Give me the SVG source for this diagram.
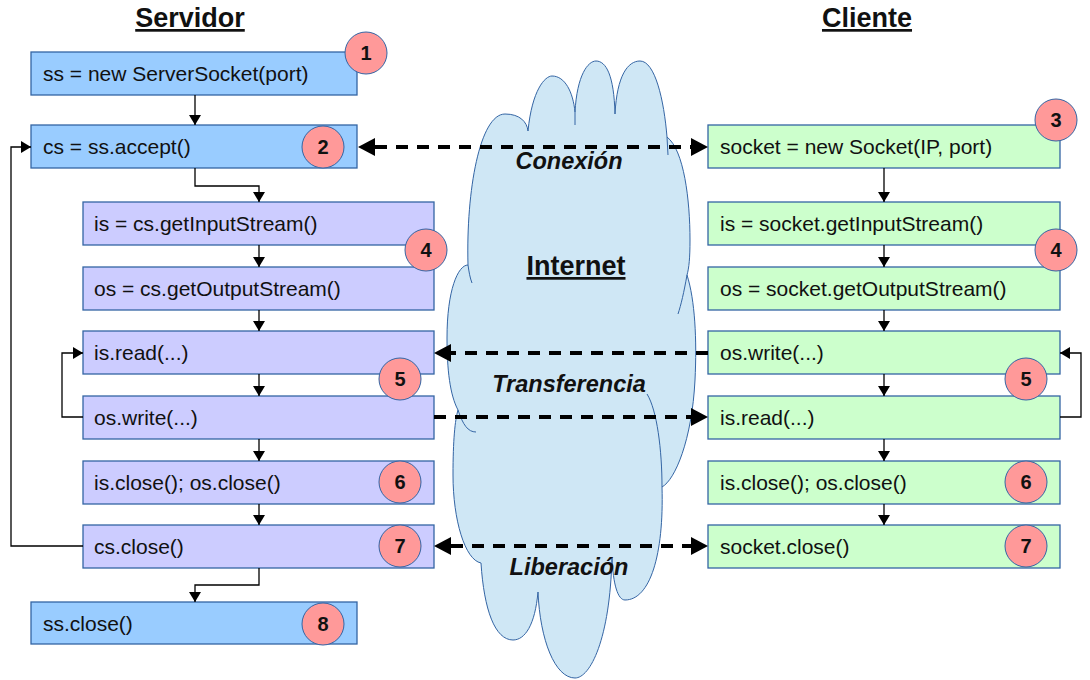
<svg xmlns="http://www.w3.org/2000/svg" width="1090" height="680" viewBox="0 0 1090 680">
<style>
.bx{stroke:#3465a4;stroke-width:1.3}
.srv{fill:#99ccff}.pur{fill:#ccccff}.cli{fill:#ccffcc}
.t{font-family:"Liberation Sans",Arial,sans-serif;font-size:21px;fill:#111}
.nc{fill:#ff9999;stroke:#3465a4;stroke-width:1}
.n{font-family:"Liberation Sans",Arial,sans-serif;font-size:20px;font-weight:bold;text-anchor:middle;fill:#111}
.ttl{font-family:"Liberation Sans",Arial,sans-serif;font-size:27px;font-weight:bold;text-anchor:middle;text-decoration:underline;fill:#111}
.lbl{font-family:"Liberation Sans",Arial,sans-serif;font-size:23.5px;font-weight:bold;font-style:italic;text-anchor:middle;fill:#111}
.c{fill:none;stroke:#000;stroke-width:1.3;marker-end:url(#a)}
.d{fill:none;stroke:#000;stroke-width:4;stroke-dasharray:12 9}
.cl{fill:#cfe7f5;stroke:#3465a4;stroke-width:1}
.ci{fill:none;stroke:#3465a4;stroke-width:1}
</style>
<defs>
<marker id="a" viewBox="0 0 10 12" refX="10" refY="6" markerWidth="10" markerHeight="12" markerUnits="userSpaceOnUse" orient="auto"><path d="M0,0L10,6L0,12z" fill="#000"/></marker>
<marker id="b" viewBox="0 0 17 18" refX="0" refY="9" markerWidth="17" markerHeight="18" markerUnits="userSpaceOnUse" orient="auto-start-reverse"><path d="M0,0L17,9L0,18z" fill="#000"/></marker>
</defs>
<rect width="1090" height="680" fill="#fff"/>

<g id="cloud">
<path class="cl" d="M468,265 C466,190 480,114 505,114 C520,114 527,122 528,131 C532,90 545,76 552,76 C565,76 573,92 575,112 C577,75 588,61 596,61 C606,61 614,75 615,114 C617,75 628,61 640,61 C655,61 664,100 667,137 C684,150 690,200 690,240 C690,258 689,268 687,275 C695,300 697,340 695,380 C692,440 675,480 662,487 C664,555 650,600 625,600 C618,600 613,585 612,557 C610,640 590,678 575,678 C555,678 540,640 538,592 C535,625 525,640 513,640 C495,640 484,610 481,563 C465,560 453,520 453,475 C453,440 455,420 458,410 C450,395 447,370 447,338 C447,290 458,265 468,265 Z"/>
<path class="ci" d="M468,265 C469,272 470,278 472,283 M458,410 C463,425 468,432 476,432 M687,275 C684,292 681,305 678,314 M647,394 C657,410 662,450 662,487 M667,137 L668,155 M575,112 L575,125"/>
<text class="ttl" x="576" y="275">Internet</text>
</g>

<text class="ttl" x="190" y="27">Servidor</text>
<text class="ttl" x="867" y="27">Cliente</text>

<g id="s1"><rect class="bx srv" x="31" y="52" width="326" height="43"/><text class="t" x="43" y="81">ss = new ServerSocket(port)</text></g>
<g id="s2"><rect class="bx srv" x="31" y="125" width="326" height="43"/><text class="t" x="43" y="154">cs = ss.accept()</text></g>
<g id="s3"><rect class="bx pur" x="83" y="202" width="351" height="43"/><text class="t" x="94" y="231">is = cs.getInputStream()</text></g>
<g id="s4"><rect class="bx pur" x="83" y="267" width="351" height="43"/><text class="t" x="94" y="296">os = cs.getOutputStream()</text></g>
<g id="s5"><rect class="bx pur" x="83" y="331" width="351" height="43"/><text class="t" x="94" y="360">is.read(...)</text></g>
<g id="s6"><rect class="bx pur" x="83" y="396" width="351" height="43"/><text class="t" x="94" y="425">os.write(...)</text></g>
<g id="s7"><rect class="bx pur" x="83" y="461" width="351" height="43"/><text class="t" x="94" y="490">is.close(); os.close()</text></g>
<g id="s8"><rect class="bx pur" x="83" y="525" width="351" height="43"/><text class="t" x="94" y="554">cs.close()</text></g>
<g id="s9"><rect class="bx srv" x="31" y="602" width="326" height="42"/><text class="t" x="43" y="631">ss.close()</text></g>

<g id="c1"><rect class="bx cli" x="708" y="125" width="352" height="43"/><text class="t" x="720" y="154">socket = new Socket(IP, port)</text></g>
<g id="c2"><rect class="bx cli" x="708" y="202" width="352" height="43"/><text class="t" x="720" y="231">is = socket.getInputStream()</text></g>
<g id="c3"><rect class="bx cli" x="708" y="267" width="352" height="43"/><text class="t" x="720" y="296">os = socket.getOutputStream()</text></g>
<g id="c4"><rect class="bx cli" x="708" y="331" width="352" height="43"/><text class="t" x="720" y="360">os.write(...)</text></g>
<g id="c5"><rect class="bx cli" x="708" y="396" width="352" height="43"/><text class="t" x="720" y="425">is.read(...)</text></g>
<g id="c6"><rect class="bx cli" x="708" y="461" width="352" height="43"/><text class="t" x="720" y="490">is.close(); os.close()</text></g>
<g id="c7"><rect class="bx cli" x="708" y="525" width="352" height="43"/><text class="t" x="720" y="554">socket.close()</text></g>

<g id="connectors">
<path class="c" d="M195,95V125"/>
<path class="c" d="M195,168V186H259V202"/>
<path class="c" d="M259,245V267"/>
<path class="c" d="M259,310V331"/>
<path class="c" d="M259,374V396"/>
<path class="c" d="M259,439V461"/>
<path class="c" d="M259,504V525"/>
<path class="c" d="M259,568V585H195V602"/>
<path class="c" d="M83,417H62V353H83"/>
<path class="c" d="M83,546H11V147H31"/>
<path class="c" d="M884,168V202"/>
<path class="c" d="M884,245V267"/>
<path class="c" d="M884,310V331"/>
<path class="c" d="M884,374V396"/>
<path class="c" d="M884,439V461"/>
<path class="c" d="M884,504V525"/>
<path class="c" d="M1060,417H1081V353H1060"/>
<path class="d" d="M375,147H691" marker-start="url(#b)" marker-end="url(#b)"/>
<path class="d" d="M708,353H451" marker-end="url(#b)"/>
<path class="d" d="M434,417H691" marker-end="url(#b)"/>
<path class="d" d="M451,546H691" marker-start="url(#b)" marker-end="url(#b)"/>
<text class="lbl" x="569" y="169">Conexión</text>
<text class="lbl" x="569" y="392">Transferencia</text>
<text class="lbl" x="569" y="575">Liberación</text>
</g>

<g id="n1"><circle class="nc" cx="366" cy="53" r="21"/><text class="n" x="366" y="60">1</text></g>
<g id="n2"><circle class="nc" cx="323" cy="147" r="21"/><text class="n" x="323" y="154">2</text></g>
<g id="n3"><circle class="nc" cx="1056" cy="120" r="21"/><text class="n" x="1056" y="127">3</text></g>
<g id="n4l"><circle class="nc" cx="426" cy="250" r="21"/><text class="n" x="426" y="257">4</text></g>
<g id="n4r"><circle class="nc" cx="1056" cy="250" r="21"/><text class="n" x="1056" y="257">4</text></g>
<g id="n5l"><circle class="nc" cx="400" cy="379" r="21"/><text class="n" x="400" y="386">5</text></g>
<g id="n5r"><circle class="nc" cx="1026" cy="379" r="21"/><text class="n" x="1026" y="386">5</text></g>
<g id="n6l"><circle class="nc" cx="400" cy="482" r="21"/><text class="n" x="400" y="489">6</text></g>
<g id="n6r"><circle class="nc" cx="1026" cy="482" r="21"/><text class="n" x="1026" y="489">6</text></g>
<g id="n7l"><circle class="nc" cx="400" cy="546" r="21"/><text class="n" x="400" y="553">7</text></g>
<g id="n7r"><circle class="nc" cx="1026" cy="546" r="21"/><text class="n" x="1026" y="553">7</text></g>
<g id="n8"><circle class="nc" cx="323" cy="624" r="21"/><text class="n" x="323" y="631">8</text></g>
</svg>
